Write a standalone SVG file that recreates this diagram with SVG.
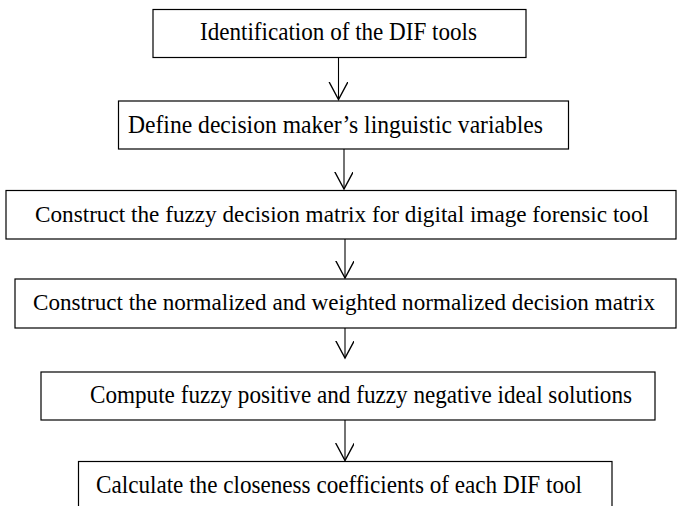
<svg xmlns="http://www.w3.org/2000/svg" width="677" height="506" viewBox="0 0 677 506">
<defs>
<style>
.box{fill:#fff;stroke:#000;stroke-width:1.2}
.t{font-family:"Liberation Serif","Times New Roman",serif;font-size:25px;fill:#000}
.w{font-size:23.5px}
.c{fill:none;stroke:#000;stroke-width:1.1}
</style>
<marker id="v" markerUnits="userSpaceOnUse" markerWidth="20" markerHeight="20" refX="14" refY="7.5" orient="auto" viewBox="0 0 16 16">
<path d="M0,0 L14,7.5 L0,15" fill="none" stroke="#000" stroke-width="1.1"/>
</marker>
</defs>
<rect width="677" height="506" fill="#fff"/>
<g id="connectors">
<line class="c" x1="338.5" y1="58" x2="338.5" y2="99.5" marker-end="url(#v)"/>
<line class="c" x1="344" y1="149" x2="344" y2="189" marker-end="url(#v)"/>
<line class="c" x1="345" y1="239" x2="345" y2="278" marker-end="url(#v)"/>
<line class="c" x1="345" y1="328" x2="345" y2="358" marker-end="url(#v)"/>
<line class="c" x1="345" y1="420" x2="345" y2="460.5" marker-end="url(#v)"/>
</g>
<g id="n1">
<rect class="box" x="153" y="9.5" width="373" height="48"/>
<text class="t" x="200" y="40" textLength="277" lengthAdjust="spacingAndGlyphs">Identification of the DIF tools</text>
</g>
<g id="n2">
<rect class="box" x="118.5" y="101" width="450" height="48"/>
<text class="t" x="128" y="133" textLength="415" lengthAdjust="spacingAndGlyphs">Define decision maker’s linguistic variables</text>
</g>
<g id="n3">
<rect class="box" x="6" y="190.5" width="670" height="48.5"/>
<text class="t w" x="35" y="222" textLength="614" lengthAdjust="spacingAndGlyphs">Construct the fuzzy decision matrix for digital image forensic tool</text>
</g>
<g id="n4">
<rect class="box" x="15" y="279" width="661" height="49"/>
<text class="t w" x="33" y="310" textLength="622" lengthAdjust="spacingAndGlyphs">Construct the normalized and weighted normalized decision matrix</text>
</g>
<g id="n5">
<rect class="box" x="41" y="372" width="614" height="48"/>
<text class="t" x="90" y="403" textLength="542" lengthAdjust="spacingAndGlyphs">Compute fuzzy positive and fuzzy negative ideal solutions</text>
</g>
<g id="n6">
<rect class="box" x="78.5" y="461.5" width="533.5" height="60"/>
<text class="t" x="96" y="493" textLength="486" lengthAdjust="spacingAndGlyphs">Calculate the closeness coefficients of each DIF tool</text>
</g>
</svg>
